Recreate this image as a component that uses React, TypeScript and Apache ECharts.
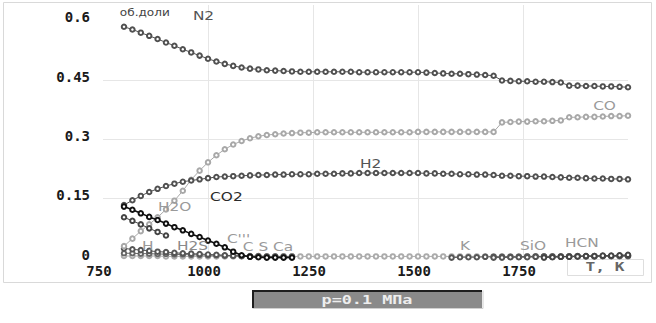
import React, { useEffect, useRef } from "react";
import * as echarts from "echarts";

// Temperature grid, K
const T = [
  800, 820, 840, 860, 880, 900, 920, 940, 960, 980,
  1000, 1020, 1040, 1060, 1080, 1100, 1120, 1140, 1160, 1180,
  1200, 1220, 1240, 1260, 1280, 1300, 1320, 1340, 1360, 1380,
  1400, 1420, 1440, 1460, 1480, 1500, 1520, 1540, 1560, 1580,
  1600, 1620, 1640, 1660, 1680, 1700, 1720, 1740, 1760, 1780,
  1800, 1820, 1840, 1860, 1880, 1900, 1920, 1940, 1960, 1980,
  2000,
];

const N2 = [
  0.585, 0.578, 0.570, 0.562, 0.554, 0.545, 0.537, 0.528, 0.520, 0.512,
  0.504, 0.497, 0.491, 0.486, 0.482, 0.479, 0.477, 0.475, 0.474, 0.473,
  0.472, 0.471, 0.471, 0.471, 0.471, 0.471, 0.471, 0.471, 0.470, 0.470,
  0.470, 0.470, 0.470, 0.470, 0.470, 0.470, 0.469, 0.468, 0.467, 0.466,
  0.466, 0.465, 0.464, 0.463, 0.461, 0.449, 0.448, 0.447, 0.447, 0.446,
  0.446, 0.445, 0.444, 0.436, 0.436, 0.435, 0.435, 0.434, 0.434, 0.433,
  0.432,
];

const CO = [
  0.030, 0.049, 0.068, 0.085, 0.103, 0.123, 0.145, 0.170, 0.198, 0.221,
  0.242, 0.260, 0.275, 0.287, 0.296, 0.303, 0.308, 0.311, 0.313, 0.315,
  0.316, 0.317, 0.317, 0.318, 0.318, 0.318, 0.318, 0.318, 0.318, 0.318,
  0.318, 0.318, 0.318, 0.318, 0.318, 0.319, 0.319, 0.319, 0.319, 0.319,
  0.319, 0.319, 0.319, 0.319, 0.319, 0.343, 0.344, 0.345, 0.345, 0.346,
  0.346, 0.347, 0.348, 0.356, 0.356, 0.357, 0.357, 0.358, 0.359, 0.359,
  0.360,
];

const H2 = [
  0.134, 0.146, 0.157, 0.167, 0.175, 0.182, 0.188, 0.193, 0.196, 0.199,
  0.202, 0.205, 0.206, 0.207, 0.208, 0.209, 0.210, 0.210, 0.211, 0.211,
  0.212, 0.212, 0.212, 0.213, 0.213, 0.213, 0.214, 0.214, 0.215, 0.215,
  0.215, 0.215, 0.215, 0.215, 0.215, 0.215, 0.214, 0.214, 0.213, 0.213,
  0.212, 0.212, 0.211, 0.211, 0.210, 0.208, 0.208, 0.207, 0.207, 0.206,
  0.206, 0.205, 0.204, 0.203, 0.203, 0.202, 0.201, 0.201, 0.200, 0.200,
  0.199,
];

const CS = [
  0.005, 0.005, 0.005, 0.005, 0.005, 0.004, 0.004, 0.004, 0.004, 0.004,
  0.004, 0.004, 0.004, 0.004, 0.004, 0.004, 0.004, 0.004, 0.004, 0.004,
  0.004, 0.004, 0.004, 0.004, 0.004, 0.004, 0.004, 0.004, 0.004, 0.004,
  0.004, 0.004, 0.004, 0.004, 0.004, 0.004, 0.004, 0.004, 0.004, 0.004,
  0.004, 0.004, 0.004, 0.004, 0.004, 0.004, 0.004, 0.004, 0.004, 0.004,
  0.004, 0.004, 0.004, 0.004, 0.004, 0.004, 0.004, 0.004, 0.004, 0.004,
  0.004,
];

// partial series as [T, value]
const CO2: [number, number][] = [
  [800, 0.130], [820, 0.122], [840, 0.113], [860, 0.104], [880, 0.096],
  [900, 0.087], [920, 0.078], [940, 0.070], [960, 0.061], [980, 0.053],
  [1000, 0.044], [1020, 0.036], [1040, 0.027], [1060, 0.016], [1080, 0.007],
  [1100, 0.003], [1120, 0.002], [1140, 0.001], [1160, 0.001], [1180, 0.001],
  [1200, 0.001],
];

const H2O: [number, number][] = [
  [800, 0.103], [820, 0.094], [840, 0.085], [860, 0.075], [880, 0.066], [900, 0.057],
];

const H: [number, number][] = [
  [800, 0.024], [820, 0.022], [840, 0.020], [860, 0.018], [880, 0.016],
  [900, 0.015], [920, 0.013], [940, 0.012], [960, 0.011], [980, 0.010],
  [1000, 0.009], [1020, 0.008], [1040, 0.007], [1060, 0.006], [1080, 0.005],
  [1100, 0.004], [1120, 0.004], [1140, 0.003], [1160, 0.003], [1180, 0.002],
  [1200, 0.002],
];

const H2S: [number, number][] = [
  [800, 0.012], [820, 0.012], [840, 0.011], [860, 0.011], [880, 0.010],
  [900, 0.010], [920, 0.009], [940, 0.009], [960, 0.008], [980, 0.008],
  [1000, 0.007], [1020, 0.007], [1040, 0.006], [1060, 0.006], [1080, 0.005],
  [1100, 0.005], [1120, 0.005], [1140, 0.004], [1160, 0.004], [1180, 0.004],
  [1200, 0.004],
];

const K: [number, number][] = [
  [1580, 0.001], [1600, 0.002], [1620, 0.002], [1640, 0.002], [1660, 0.003],
  [1680, 0.003], [1700, 0.003], [1720, 0.003], [1740, 0.003], [1760, 0.004],
  [1780, 0.004], [1800, 0.004], [1820, 0.004], [1840, 0.004], [1860, 0.004],
  [1880, 0.005], [1900, 0.005], [1920, 0.005], [1940, 0.005], [1960, 0.005],
  [1980, 0.006], [2000, 0.006],
];

const SiO: [number, number][] = [
  [1680, 0.001], [1700, 0.001], [1720, 0.002], [1740, 0.002], [1760, 0.002],
  [1780, 0.003], [1800, 0.003], [1820, 0.003], [1840, 0.003], [1860, 0.004],
  [1880, 0.004], [1900, 0.004], [1920, 0.004], [1940, 0.005], [1960, 0.005],
  [1980, 0.005], [2000, 0.005],
];

const HCN: [number, number][] = [
  [1800, 0.001], [1820, 0.002], [1840, 0.003], [1860, 0.003], [1880, 0.004],
  [1900, 0.005], [1920, 0.005], [1940, 0.006], [1960, 0.006], [1980, 0.007],
  [2000, 0.008],
];

// Axis ticks
const X_GRID = [1000, 1250, 1500, 1750];
const Y_GRID = [0.15, 0.3, 0.45];

// Curve labels: text, T, value, colour
const LABELS: [string, number, number, string][] = [
  ["N2", 964, 0.613, "#555"],
  ["CO", 1917, 0.386, "#9a9a9a"],
  ["H2", 1362, 0.239, "#555"],
  ["CO2", 1005, 0.156, "#2a2a2a"],
  ["H2O", 881, 0.129, "#9a9a9a"],
  ["H", 843, 0.030, "#9a9a9a"],
  ["H2S", 926, 0.030, "#8a8a8a"],
  ["C'''", 1045, 0.048, "#9a9a9a"],
  ["C S Ca", 1083, 0.028, "#9a9a9a"],
  ["K", 1600, 0.030, "#9a9a9a"],
  ["SiO", 1743, 0.030, "#9a9a9a"],
  ["HCN", 1850, 0.038, "#9a9a9a"],
];

const Y_NAME = "об.доли";
const X_NAME = "T, K";
const PRESSURE = "p=0.1 МПа";

export default function App() {
  const ref = useRef<HTMLDivElement>(null);

  useEffect(() => {
    const chart = echarts.init(ref.current!, null, { renderer: "svg" });
    const zip = (vals: number[]) => T.map((t, i) => [t, vals[i]]);
    const line = (name: string, data: any[], color: string, width = 1, z = 2) => ({
      type: "line",
      name,
      data,
      z,
      symbol: "emptyCircle",
      symbolSize: 4.5,
      showSymbol: true,
      silent: true,
      lineStyle: { color, width },
      itemStyle: { color, borderColor: color, borderWidth: width > 1 ? 1.3 : 1 },
    });

    const gridLines = [
      ...X_GRID.map((v) => ({ xAxis: v })),
      ...Y_GRID.map((v) => ({ yAxis: v })),
    ];

    const n2 = line("N2", zip(N2), "#505050") as any;
    n2.markLine = {
      z: 1,
      silent: true,
      symbol: "none",
      label: { show: false },
      lineStyle: { color: "#e6e6e6", type: "solid", width: 1 },
      data: gridLines,
    };

    chart.setOption({
      animation: false,
      backgroundColor: "#ffffff",
      grid: { left: 103, right: 28, top: 5, bottom: 65 },
      xAxis: {
        type: "value",
        min: 750,
        max: 2000,
        interval: 250,
        axisLine: { show: false },
        axisTick: { show: false },
        splitLine: { show: false },
        axisLabel: {
          showMaxLabel: false,
          margin: 6,
          padding: [0, 8, 0, 0],
          color: "#1a1a1a",
          fontFamily: "DejaVu Sans Mono",
          fontWeight: "bold",
          fontSize: 14,
          formatter: (v: number) => String(v),
        },
      },
      yAxis: {
        type: "value",
        min: 0,
        max: 0.64,
        interval: 0.15,
        axisLine: { show: false },
        axisTick: { show: false },
        splitLine: { show: false },
        axisLabel: {
          showMaxLabel: false,
          margin: 13,
          verticalAlign: "bottom",
          lineHeight: 7,
          color: "#1a1a1a",
          fontFamily: "DejaVu Sans Mono",
          fontWeight: "bold",
          fontSize: 14,
          formatter: (v: number) => (v === 0 ? "0" : String(+v.toFixed(2))),
        },
      },
      series: [
        line("CS", zip(CS), "#ababab"),
        line("H2S", H2S, "#666"),
        line("H", H, "#555"),
        line("K", K, "#555"),
        line("SiO", SiO, "#555"),
        line("HCN", HCN, "#444"),
        n2,
        line("CO", zip(CO), "#a8a8a8"),
        line("H2", zip(H2), "#505050"),
        line("H2O", H2O, "#444"),
        line("CO2", CO2, "#111", 1.6, 3),
      ],
    });

    const font = '12px "DejaVu Sans"';
    const labelEls = LABELS.map(([text, t, v, color]) => {
      const p = chart.convertToPixel({ gridIndex: 0 }, [t, v]) as number[];
      return {
        type: "text",
        x: p[0],
        y: p[1],
        scaleX: 1.28,
        z: 10,
        silent: true,
        style: {
          text,
          fill: color,
          font,
          textAlign: "left",
          textVerticalAlign: "middle",
          align: "left",
          verticalAlign: "middle",
        },
      };
    });
    const yn = chart.convertToPixel({ gridIndex: 0 }, [790, 0.623]) as number[];

    chart.setOption({
      graphic: [
        {
          type: "rect",
          silent: true,
          z: 0,
          shape: { x: 3.5, y: 2.5, width: 648, height: 280 },
          style: { fill: "none", stroke: "#d9d9d9", lineWidth: 1 },
        },
        {
          type: "text",
          x: yn[0],
          y: yn[1],
          scaleX: 1.1,
          z: 10,
          silent: true,
          style: {
            text: Y_NAME,
            fill: "#444",
            font: '11px "DejaVu Sans"',
            textAlign: "left",
            textVerticalAlign: "middle",
            align: "left",
            verticalAlign: "middle",
          },
        },
        ...labelEls,
        {
          type: "rect",
          silent: true,
          z: 1,
          shape: { x: 567.5, y: 259.5, width: 76, height: 16 },
          style: { fill: "none", stroke: "#dedede", lineWidth: 1 },
        },
        {
          type: "text",
          x: 605,
          y: 267,
          scaleX: 1.35,
          z: 10,
          silent: true,
          style: {
            text: X_NAME,
            fill: "#666",
            font: 'bold 12px "DejaVu Sans Mono"',
            textAlign: "center",
            textVerticalAlign: "middle",
            align: "center",
            verticalAlign: "middle",
          },
        },
        {
          type: "rect",
          silent: true,
          z: 1,
          shape: { x: 252, y: 290, width: 230, height: 18 },
          style: { fill: "#8a8a8a", stroke: "none" },
        },
        {
          type: "polyline",
          silent: true,
          z: 2,
          shape: { points: [[483, 290.5], [483, 308.5], [252.5, 308.5]] },
          style: { fill: "none", stroke: "#d0d0d0", lineWidth: 1 },
        },
        {
          type: "polyline",
          silent: true,
          z: 2,
          shape: { points: [[253, 308], [253, 291], [482, 291]] },
          style: { fill: "none", stroke: "#1e1e1e", lineWidth: 2 },
        },
        {
          type: "text",
          x: 367,
          y: 299.5,
          scaleX: 1.4,
          z: 10,
          silent: true,
          style: {
            text: PRESSURE,
            fill: "#eeeeee",
            font: 'bold 12px "DejaVu Sans Mono"',
            textAlign: "center",
            textVerticalAlign: "middle",
            align: "center",
            verticalAlign: "middle",
          },
        },
      ],
    });

    return () => chart.dispose();
  }, []);

  return (
    <div
      ref={ref}
      style={{ position: "absolute", left: 0, top: 0, width: 656, height: 323 }}
    />
  );
}
